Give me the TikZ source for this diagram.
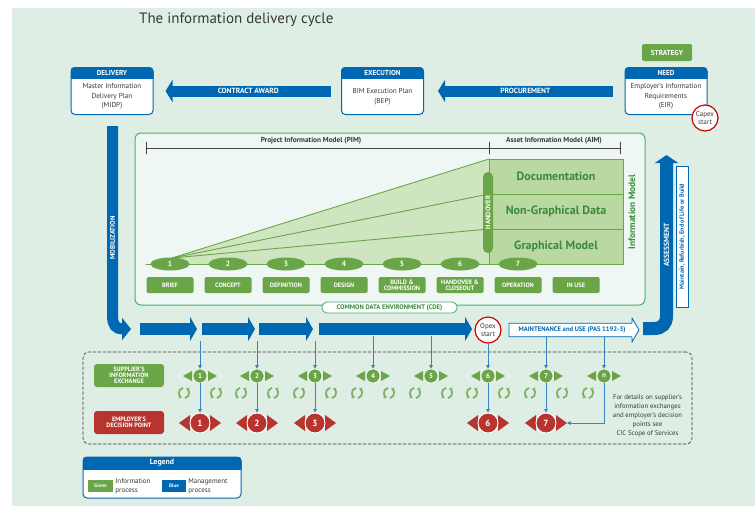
\documentclass[tikz,border=0pt]{standalone}
\usepackage{fontspec}
\setmainfont{PT Sans}
\usepackage{tikz}
\usetikzlibrary{arrows.meta,calc,positioning,shapes.geometric,shapes.arrows}

\definecolor{idcbg}{RGB}{222,238,229}
\definecolor{idcpanel}{RGB}{239,247,245}
\definecolor{idcblue}{RGB}{0,104,178}
\definecolor{idcgreen}{RGB}{106,166,72}
\definecolor{idcred}{RGB}{184,52,46}
\definecolor{idcmint}{RGB}{72,176,112}
\definecolor{idcwedge}{RGB}{206,229,192}
\definecolor{idcmodel}{RGB}{186,217,162}
\definecolor{idcdark}{RGB}{58,138,58}
\definecolor{idcgray}{RGB}{55,55,55}

\tikzset{
  every picture/.append style={line cap=round,line join=round},
  idc title/.style={text=idcgray,font=\fontsize{15}{15}\selectfont,inner sep=0pt},
  idc card/.style={draw=idcblue,line width=1pt,fill=white,rounded corners=4pt,minimum width=82pt,minimum height=47pt,inner sep=0pt},
  idc head/.style={text=white,font=\fontsize{7.2}{7.2}\selectfont\bfseries,inner sep=0pt},
  idc body/.style={text=idcgray,font=\fontsize{7.2}{9.5}\selectfont,align=center,inner sep=0pt},
  idc bar/.style={idcblue,line width=11pt,line cap=butt,line join=miter},
  idc flow/.style={idc bar,line width=12pt,-{Triangle[length=7pt,width=24pt]}},
  idc tag/.style={text=white,font=\fontsize{7.5}{7.5}\selectfont\bfseries,inner sep=0pt},
  idc strategy/.style={fill=idcgreen,rounded corners=1.5pt,minimum width=50pt,minimum height=17pt,inner sep=0pt,text=white,font=\fontsize{7.2}{7.2}\selectfont\bfseries},
  idc start/.style={circle,draw=red!80!black,line width=1.2pt,fill=white,minimum size=26pt,inner sep=0pt,align=center,text=idcgray,font=\fontsize{7}{7.5}\selectfont},
  idc scale/.style={gray!55!black,line width=0.9pt},
  idc note/.style={text=idcgray,font=\fontsize{7.3}{7.3}\selectfont\bfseries,inner sep=0pt},
  idc layer/.style={draw=idcgreen,line width=0.8pt,fill=idcmodel,minimum width=134pt,minimum height=35pt,inner sep=0pt,text=idcdark,font=\fontsize{12}{12}\selectfont\bfseries},
  idc hand/.style={fill=idcgreen,rounded corners=5pt,minimum width=81pt,minimum height=10pt,inner sep=0pt,text=white,font=\fontsize{6.8}{6.8}\selectfont\bfseries},
  idc lens/.style={ellipse,fill=idcgreen,minimum width=39pt,minimum height=13pt,inner sep=0pt,text=white,font=\fontsize{7.5}{7.5}\selectfont\bfseries},
  idc stage/.style={fill=idcgreen,rounded corners=1.5pt,minimum width=47pt,minimum height=16pt,inner sep=0pt,text=white,align=center,font=\fontsize{6.3}{5.6}\selectfont\bfseries},
  idc label/.style={rounded corners=3pt,minimum width=70pt,minimum height=23pt,inner sep=0pt,text=white,align=center,font=\fontsize{6.3}{6.2}\selectfont\bfseries},
  idc xchg/.style={circle,fill=idcgreen,draw=white,line width=0.6pt,minimum size=14pt,inner sep=0pt,text=white,font=\fontsize{7}{7}\selectfont\bfseries},
  idc dec/.style={circle,fill=idcred,draw=white,line width=0.9pt,minimum size=20pt,inner sep=0pt,text=white,font=\fontsize{9}{9}\selectfont\bfseries},
  idc loop/.style={idcgreen!85!white,line width=1.8pt,line cap=butt,-{Triangle[length=2.8pt,width=4pt]}},
  idc link/.style={idcblue!80!white,line width=0.9pt,line cap=butt,-{Triangle[length=3.5pt,width=3.5pt]}},
  idc small/.style={text=idcgray,font=\fontsize{6.8}{9}\selectfont,align=center,inner sep=0pt}
}

\begin{document}
\begin{tikzpicture}[x=1pt,y=-1pt]
  \useasboundingbox (0,0) rectangle (755,506);
  \fill[white] (0,0) rectangle (755,506);
  \fill[idcbg] (12,8) rectangle (755,506);

  \node[idc title,anchor=west] (title) at (139,20) {The information delivery cycle};

  % management cards
  \foreach \nm/\cx/\hd/\txt in {dlv/112/DELIVERY/{Master Information\\Delivery Plan\\(MIDP)},
      bep/382.5/EXECUTION/{BIM Execution Plan\\(BEP)},
      eir/666/NEED/{Employer's Information\\Requirements\\(EIR)}} {
    \node[idc card] (\nm) at (\cx,91) {};
    \begin{scope}
      \clip[rounded corners=4pt] (\nm.north west) rectangle (\nm.south east);
      \fill[idcblue] (\nm.north west) rectangle ([yshift=-11.5pt]\nm.north east);
    \end{scope}
    \node[idc head] at ([yshift=-6pt]\nm.north) {\hd};
    \node[idc body] at ([yshift=-5.5pt]\nm.center) {\txt};
  }
  \node[idc strategy] (strat) at (667,52.5) {STRATEGY};
  \node[idc start] (capex) at (705,118) {Capex\\start};

  \draw[idc bar,-{Triangle[length=7pt,width=22pt]}] ([xshift=-10pt]bep.west) -- node[idc tag] (award) {CONTRACT AWARD} ([xshift=12pt]dlv.east);
  \draw[idc bar,-{Triangle[length=7pt,width=22pt]}] ([xshift=-12pt]eir.west) -- node[idc tag] (procure) {PROCUREMENT} ([xshift=14pt]bep.east);

  % common data environment
  \node[draw=idcmint,fill=idcpanel,rounded corners=6pt,line width=1pt,minimum width=510pt,minimum height=172pt] (cde) at (390,219) {};
  \coordinate (pimL) at (146,148);
  \coordinate (pimR) at (489,148);
  \coordinate (aimR) at (620,148);
  \draw[idc scale] (pimL) -- (aimR);
  \foreach \p in {pimL,pimR,aimR}
    \draw[idc scale] ([yshift=6pt]\p) -- ([yshift=-6pt]\p);
  \node[idc note] (pim) at (311,141) {Project Information Model (PIM)};
  \node[idc note] (aim) at (554,141) {Asset Information Model (AIM)};

  \coordinate (apex) at (172,258);
  \fill[idcwedge] (apex) -- (489,159) -- (489,264) -- (150,264) -- cycle;
  \foreach \ty in {159,194,229}
    \draw[idcgreen,line width=0.9pt] (apex) -- (489,\ty);
  \draw[idcgreen,line width=0.9pt] (146,264) -- (489,264);

  \foreach \nm/\cy/\txt in {doc/176.5/Documentation,ngd/211.5/Non-Graphical Data,gfx/246.5/Graphical Model}
    \node[idc layer] (\nm) at (556,\cy) {\txt};
  \node[idc hand,rotate=90] (hov) at (488,212.5) {HANDOVER};
  \node[rotate=90,text=idcdark,font=\fontsize{9.3}{9.3}\selectfont\bfseries,inner sep=0pt] (imod) at (632,212) {Information Model};

  \foreach \i in {1,...,7}
    \node[idc lens] (lens\i) at ({170+58*(\i-1)},264) {\i};
  \foreach \i/\txt in {1/BRIEF,2/CONCEPT,3/DEFINITION,4/DESIGN,5/{BUILD \&\\COMMISSION},6/{HANDOVER \&\\CLOSEOUT},7/OPERATION,8/IN USE}
    \node[idc stage] (stage\i) at ({170+58*(\i-1)},285) {\txt};

  \node[draw=idcmint,fill=white,rounded corners=5pt,line width=0.8pt,minimum width=135pt,minimum height=11pt,inner sep=0pt,text=idcdark,font=\fontsize{6.6}{6.6}\selectfont\bfseries] (cdelbl) at (389.5,307.5) {COMMON DATA ENVIRONMENT (CDE)};

  % mobilization and assessment
  \coordinate (mobtop) at (112.5,126);
  \coordinate (mobend) at (131,329);
  \draw[idc bar,-{Triangle[length=9pt,width=22pt]}] (mobtop) -- (112.5,316) .. controls (112.5,325) and (116,329) .. (mobend);
  \node[idc tag,rotate=90,font=\fontsize{6.8}{6.8}\selectfont\bfseries] (mobtxt) at (112.5,238) {MOBILIZATION};

  \coordinate (asslow) at (643,328.5);
  \coordinate (asstop) at (666.5,155);
  \draw[idc bar,line width=13pt,-{Triangle[length=8pt,width=23pt]}] (asslow) -- (654,328.5) .. controls (662,328.5) and (666.5,324) .. (666.5,316) -- (asstop);
  \node[idc tag,rotate=90] (asstxt) at (666.5,245) {ASSESSMENT};
  \node[draw=idcblue,line width=0.8pt,fill=white,rotate=90,minimum width=141pt,minimum height=12pt,inner sep=0pt,text=idcblue,font=\fontsize{6.2}{6.2}\selectfont\bfseries] (life) at (682,236.5) {Maintain, Refurbish, End of Life or Build};

  % delivery stages
  \foreach \n/\a/\b in {1/140/197,2/202/255,3/259/313,4/319/472}
    \draw[idc flow] (\a,329) coordinate (flow\n a) -- (\b,329) coordinate (flow\n b);
  \node[idc start] (opex) at (488,330) {Opex\\start};
  \node[single arrow,draw=idcblue,line width=0.8pt,fill=white,minimum height=130pt,single arrow head extend=5.5pt,single arrow tip angle=120,inner sep=3.2pt,text=idcblue,font=\fontsize{6.6}{6.6}\selectfont\bfseries] (mnt) at (572,330) {MAINTENANCE and USE (PAS 1192-3)};

  % exchanges and decisions
  \node[draw=idcgray,dashed,dash pattern=on 3pt off 2pt,line width=0.6pt,rounded corners=6pt,minimum width=609pt,minimum height=92pt] (xpanel) at (387.5,398) {};
  \node[idc label,fill=idcgreen] (sie) at (129,375.5) {SUPPLIER'S\\INFORMATION\\EXCHANGE};
  \node[idc label,fill=idcred] (edp) at (129,422.5) {EMPLOYER'S\\DECISION POINT};

  \foreach \i/\x in {1/200,2/257,3/315,4/373,5/431,6/488,7/546,n/604} {
    \fill[idcgreen] (\x-8,371) -- (\x-17,376) -- (\x-8,381) -- cycle;
    \fill[idcgreen] (\x+8,371) -- (\x+17,376) -- (\x+8,381) -- cycle;
    \node[idc xchg] (sx\i) at (\x,376) {\i};
    \draw[idc loop] (\x-16,393) ++(100:5.2pt) arc[start angle=100,end angle=245,radius=5.2pt];
    \draw[idc loop] (\x-16,393) ++(-80:5.2pt) arc[start angle=-80,end angle=65,radius=5.2pt];
  }
  \foreach \x in {200,257,315,373,431,488,546} {
    \draw[idc loop] (\x+16,393) ++(100:5.2pt) arc[start angle=100,end angle=245,radius=5.2pt];
    \draw[idc loop] (\x+16,393) ++(-80:5.2pt) arc[start angle=-80,end angle=65,radius=5.2pt];
  }
  \foreach \i/\x in {1/200,2/257,3/315,6/488,7/546} {
    \fill[idcred] (\x-10,415) -- (\x-21,423) -- (\x-10,431) -- cycle;
    \fill[idcred] (\x+10,415) -- (\x+21,423) -- (\x+10,431) -- cycle;
    \node[idc dec] (ed\i) at (\x,423) {\i};
    \draw[idc link] (sx\i) -- (ed\i);
  }

  % links from the stages
  \foreach \i/\x/\y in {1/200/341,2/257/341,3/315/341,4/373/336,5/431/336,7/546/337,n/604/337} {
    \coordinate (drop\i) at (\x,\y);
    \draw[idc link] (drop\i) -- (sx\i);
  }
  \draw[idc link] (opex) -- (sx6);
  \draw[idc link] (sxn) |- ([xshift=21pt]ed7.center);

  \node[idc small] (cic) at (647.5,416) {For details on supplier's\\information exchanges\\and employer's decision\\points see\\CIC Scope of Services};

  % legend
  \node[draw=idcblue,line width=1pt,fill=white,rounded corners=4pt,minimum width=158pt,minimum height=41pt] (legend) at (162,477.5) {};
  \begin{scope}
    \clip[rounded corners=4pt] (legend.north west) rectangle (legend.south east);
    \fill[idcblue] (legend.north west) rectangle ([yshift=-13pt]legend.north east);
  \end{scope}
  \node[idc head,font=\fontsize{7.8}{7.8}\selectfont\bfseries] (legtitle) at ([yshift=-6.5pt]legend.north) {Legend};
  \node[fill=idcgreen,minimum width=25pt,minimum height=12pt,inner sep=0pt,text=white,font=\fontsize{5}{5}\selectfont\bfseries] (chipg) at (100.5,486) {Green};
  \node[right=2pt of chipg,idc small,align=left,font=\fontsize{7}{9}\selectfont] (infop) {Information\\process};
  \node[fill=idcblue,minimum width=24pt,minimum height=12pt,inner sep=0pt,text=white,font=\fontsize{5}{5}\selectfont\bfseries] (chipb) at (174,486) {Blue};
  \node[right=2pt of chipb,idc small,align=left,font=\fontsize{7}{9}\selectfont] (mgmtp) {Management\\process};
\end{tikzpicture}
\end{document}
